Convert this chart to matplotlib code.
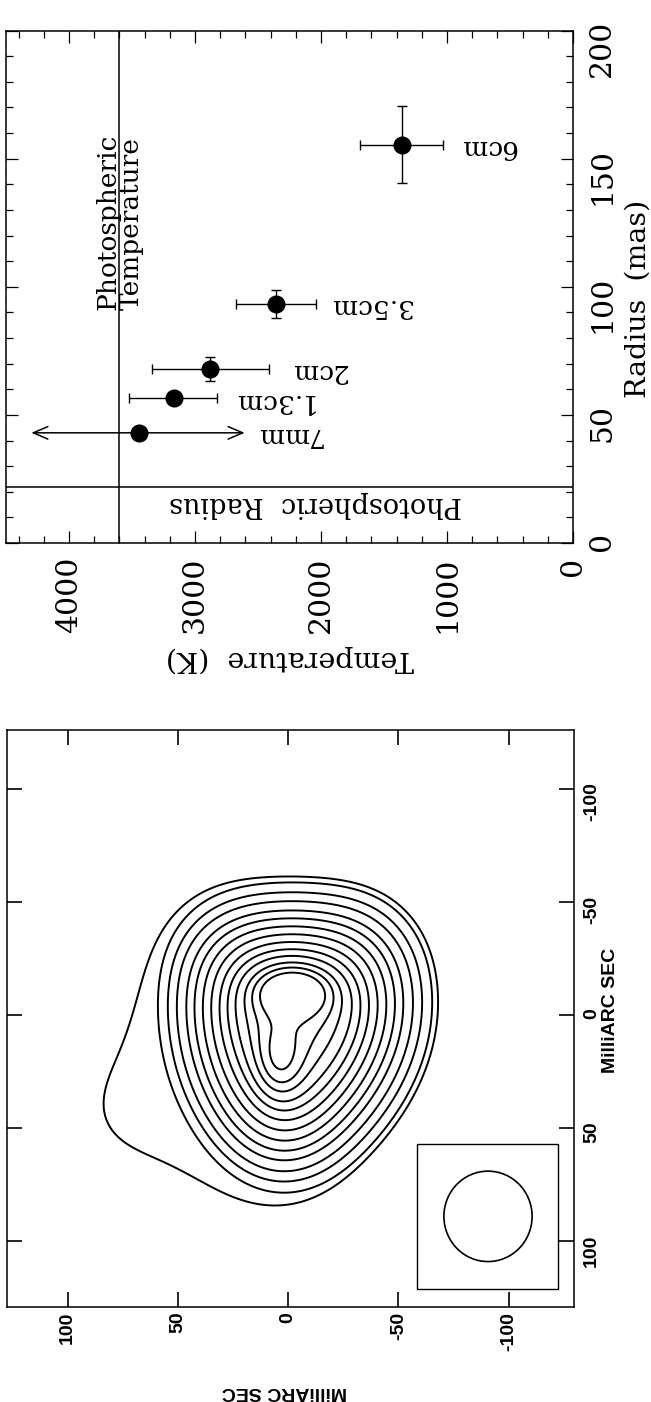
import matplotlib
matplotlib.use("Agg")
import matplotlib.pyplot as plt
import numpy as np
from matplotlib.path import Path
from matplotlib.patches import Rectangle, Ellipse

# --- upper panel: brightness temperature against radius, per band
bands = ["7mm", "1.3cm", "2cm", "3.5cm", "6cm"]
radius = [43.0, 56.5, 68.0, 93.2, 155.5]
radius_err = [0.0, 0.0, 4.7, 5.5, 15.0]
temp = [3442, 3170, 2878, 2357, 1361]
temp_lo = [2606, 2822, 2413, 2041, 1029]
temp_hi = [4299, 3525, 3343, 2672, 1693]
is_range = [True, False, False, False, False]
phot_temp = 3600
phot_radius = 22

# --- lower panel: map model
# bright source outline (mas) and compact gaussian components
src_u = [34, -40, -47, -47, -36, -16, 1, 17, 32, 39, 40, 38]
src_v = [-37, -38, -15, 5, 30, 52, 67, 56, 34, 12, -12, -30]
comp_u = [-2, 4, 0]
comp_v = [-10, 20, -15]
comp_amp = [0.30, 0.15, 0.10]
comp_su = [10, 7, 20]
comp_sv = [6.5, 11, 20]
# faint extension towards +Dec, only seen in the lowest contour
halo_u = [35, 55, 96, 74, 46, 22, 4, 0, 25, 30]
halo_v = [-40, -5, 50, 58, 61, 67, 75, 40, 0, -38]
halo_amp = 0.2
beam_maj = 40.0
beam_min = 40.0
# contour crossings: outer contour at top, rings along Dec=+2 cut
outer_cross = (0.0, -61.2)
cut_v = 2.0
ring_cross_u = [58.9, 54.4, 50.3, 46.0, 42.3, 38.5, 34.7, 30.9, 27.2, 23.4, 18.8, 14.3]
peak_cross = (12.6, -10.0)
map_ticks = [-100, -50, 0, 50, 100]

plt.rcParams["font.family"] = ["DejaVu Serif"]

fig = plt.figure(figsize=(6.51, 14.02), dpi=100)

# ---------------- upper panel
ax1 = fig.add_axes([0.00922, 0.6127, 0.8710, 0.3655])
ax1.set_xlim(4500, 0)
ax1.set_ylim(0, 200)

for i in range(len(bands)):
    if is_range[i]:
        ax1.annotate("", xy=(temp_hi[i], radius[i]), xytext=(temp_lo[i], radius[i]),
                     arrowprops=dict(arrowstyle="<->,head_length=1.05,head_width=0.45",
                                     lw=1.1, color="k", shrinkA=0, shrinkB=0))
        ax1.plot(temp[i], radius[i], "o", color="k", ms=12)
    else:
        xe = [[temp[i] - temp_lo[i]], [temp_hi[i] - temp[i]]]
        ax1.errorbar(temp[i], radius[i], xerr=xe,
                     yerr=radius_err[i] if radius_err[i] > 0 else None,
                     fmt="o", color="k", ms=12, elinewidth=1.0, capsize=3.5, capthick=1.0)

label_dx = [107, 71, 78, 68, 62]
for i, b in enumerate(bands):
    ax1.annotate(b, (temp[i], radius[i]), xytext=(label_dx[i], -2),
                 textcoords="offset points", rotation=180, fontsize=19,
                 ha="center", va="center")

ax1.axvline(phot_temp, color="k", lw=1.1)
ax1.axhline(phot_radius, color="k", lw=1.1)
ax1.text(phot_temp, 91, "Photospheric\nTemperature", rotation=90, fontsize=19,
         ha="center", va="bottom", linespacing=0.9, multialignment="left")
ax1.annotate("Photospheric  Radius", (2040, phot_radius), xytext=(0, -3),
             textcoords="offset points", rotation=180, fontsize=19.5,
             ha="center", va="top")

ax1.set_xticks([4000, 3000, 2000, 1000, 0])
ax1.set_xticks(np.arange(0, 4501, 200), minor=True)
ax1.set_yticks([0, 50, 100, 150, 200])
ax1.set_yticks(np.arange(0, 201, 10), minor=True)
ax1.tick_params(which="both", direction="in", top=True, bottom=True, left=True, right=True,
                labelleft=False, labelright=True, labelsize=21.5, width=0.9)
ax1.tick_params(which="major", length=8.5)
ax1.tick_params(which="minor", length=5)
ax1.tick_params(axis="x", labelrotation=90, pad=10)
ax1.tick_params(axis="y", labelrotation=90, pad=11)
for s in ax1.spines.values():
    s.set_linewidth(1.1)

fig.text(0.4447, 0.530, "Temperature  (K)", rotation=180, fontsize=20.5, ha="center", va="center")
fig.text(0.9808, 0.7871, "Radius  (mas)", rotation=90, fontsize=20.5, ha="center", va="center")

# ---------------- lower panel
ax2 = fig.add_axes([0.01075, 0.06776, 0.8710, 0.4116])

grid = np.arange(-160, 161, 1.0)
U, V = np.meshgrid(grid, grid)
pts = np.column_stack([U.ravel(), V.ravel()])
sigma = beam_maj / 2.3548
kern = np.exp(-(U ** 2 + V ** 2) / (2 * sigma ** 2))
kern_ft = np.fft.fft2(np.fft.ifftshift(kern / kern.sum()))


def restored(us, vs):
    # polygon of uniform brightness convolved with the restoring beam
    m = Path(np.column_stack([us, vs])).contains_points(pts).reshape(U.shape)
    return np.real(np.fft.ifft2(np.fft.fft2(m.astype(float)) * kern_ft))


field = restored(src_u, src_v)
for cu, cv, a, su, sv in zip(comp_u, comp_v, comp_amp, comp_su, comp_sv):
    field += a * np.exp(-((U - cu) ** 2 / (2 * su ** 2) + (V - cv) ** 2 / (2 * sv ** 2)))
field_low = field + halo_amp * restored(halo_u, halo_v)


def sample(u, v):
    # bilinear lookup on the 1-mas grid
    i0 = int(np.floor(v)) + 160
    j0 = int(np.floor(u)) + 160
    fv, fu = v - np.floor(v), u - np.floor(u)
    f = field
    return ((1 - fv) * ((1 - fu) * f[i0, j0] + fu * f[i0, j0 + 1])
            + fv * ((1 - fu) * f[i0 + 1, j0] + fu * f[i0 + 1, j0 + 1]))


lowest = sample(*outer_cross)
levels = [sample(u, cut_v) for u in ring_cross_u] + [sample(*peak_cross)]
levels = np.unique(np.round(levels, 5))

ax2.contour(U, V, field_low, levels=[lowest], colors="k", linewidths=1.4)
ax2.contour(U, V, field, levels=levels, colors="k", linewidths=1.4)

ax2.add_patch(Rectangle((-58.4, 57.1), -64.0, 64.0, fill=False, ec="k", lw=1.0))
ax2.add_patch(Ellipse((-90.6, 89.1), beam_min, beam_maj, fill=False, ec="k", lw=1.2))

ax2.set_xlim(127.5, -129.6)
ax2.set_ylim(129.2, -126.1)
sans = dict(fontfamily="Liberation Sans", fontweight="bold", fontsize=14, rotation=90)
ax2.set_xticks(map_ticks, [str(t) for t in map_ticks], **sans)
ax2.set_yticks(map_ticks, [str(t) for t in map_ticks], **sans)
ax2.tick_params(direction="in", top=True, bottom=True, left=True, right=True,
                labelleft=False, labelright=True, length=11, width=1.2)
ax2.tick_params(axis="x", pad=3.5)
ax2.tick_params(axis="y", pad=6.5)
for s in ax2.spines.values():
    s.set_linewidth(1.1)

fig.text(0.938, 0.2793, "MilliARC SEC", rotation=90, fontsize=14, fontweight="bold",
         fontfamily="Liberation Sans", ha="center", va="center")
fig.text(0.437, 0.0078, "MilliARC SEC", rotation=180, fontsize=14, fontweight="bold",
         fontfamily="Liberation Sans", ha="center", va="center")

fig.savefig("out.png", dpi=100)
